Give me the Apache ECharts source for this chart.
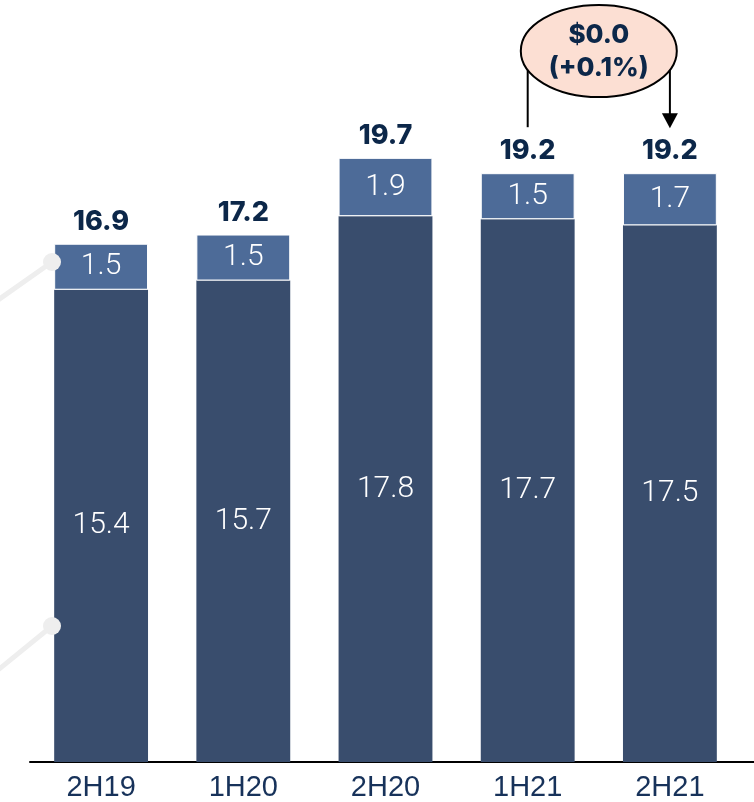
<!DOCTYPE html>
<html><head><meta charset="utf-8">
<script src="https://cdn.jsdelivr.net/npm/echarts@6/dist/echarts.min.js"></script>
<style>html,body{margin:0;padding:0;background:#fff}#c{width:754px;height:802px}</style>
</head><body><div id="c"></div>
<script>
const categories = ['2H19', '1H20', '2H20', '1H21', '2H21'];
const baseValues = [15.4, 15.7, 17.8, 17.7, 17.5];
const topValues = [1.5, 1.5, 1.9, 1.5, 1.7];
const totals = [16.9, 17.2, 19.7, 19.2, 19.2];
const changeText = ['$0.0', '(+0.1%)'];

const chart = echarts.init(document.getElementById('c'));
const navy = '#0C2749';
const boldFont = 'Inter';
chart.setOption({
  animation: false,
  grid: { left: 30, right: 13, top: 26, bottom: 39 },
  xAxis: {
    type: 'category', data: categories,
    axisLine: { lineStyle: { color: '#000', width: 2 } },
    axisTick: { show: false },
    axisLabel: { color: '#17325A', fontSize: 29, fontFamily: 'Liberation Sans Narrow, Arial Narrow, sans-serif', margin: 11 }
  },
  yAxis: { type: 'value', min: 0, max: 24, show: false, splitLine: { show: false } },
  series: [
    { type: 'bar', stack: 's', data: baseValues, barWidth: '66%',
      itemStyle: { color: '#394D6D' },
      label: { show: true, position: 'inside', color: '#fff', fontSize: 30, fontFamily: 'Roboto', fontWeight: 300 } },
    { type: 'bar', stack: 's', data: topValues,
      itemStyle: { color: '#4D6B98', borderColor: '#fff', borderWidth: 1 },
      label: { show: true, position: 'inside', color: '#fff', fontSize: 30, fontFamily: 'Roboto', fontWeight: 300 } },
    { type: 'line', data: totals, symbol: 'circle', symbolSize: 1, showSymbol: true,
      itemStyle: { color: 'rgba(0,0,0,0)' }, lineStyle: { opacity: 0 }, silent: true,
      label: { show: true, position: 'top', distance: 8, color: navy, fontSize: 27, fontWeight: 800, fontFamily: boldFont } }
  ]
});

// decorative fragments of neighbouring chart
const deco = [];
[[300, 262], [670, 626]].forEach(([y0, y1]) => {
  deco.push({ type: 'line', shape: { x1: -2, y1: y0, x2: 52, y2: y1 }, style: { stroke: '#EEEEEE', lineWidth: 5 }, z: 20 });
  deco.push({ type: 'circle', shape: { cx: 52, cy: y1, r: 9 }, style: { fill: '#EEEEEE' }, z: 20 });
});

const base0 = chart.convertToPixel({ seriesIndex: 0 }, [4, 0]);
const p1 = chart.convertToPixel({ seriesIndex: 0 }, [3, totals[3]]);
const p2 = chart.convertToPixel({ seriesIndex: 0 }, [4, totals[4]]);
const cx = (p1[0] + p2[0]) / 2;
const lineBottom = p1[1] - 46;
const cy = 51, ry = 46, rx = 78;
const g = deco.concat([
  { type: 'line', shape: { x1: 700, y1: base0[1], x2: 754, y2: base0[1] }, style: { stroke: '#000', lineWidth: 2 } },
  { type: 'line', shape: { x1: p1[0], y1: cy + 17, x2: p1[0], y2: lineBottom }, style: { stroke: '#000', lineWidth: 2 } },
  { type: 'line', shape: { x1: p2[0], y1: cy + 19, x2: p2[0], y2: lineBottom - 12 }, style: { stroke: '#000', lineWidth: 2 } },
  { type: 'polygon', shape: { points: [[p2[0] - 8, lineBottom - 14], [p2[0] + 8, lineBottom - 14], [p2[0], lineBottom + 1]] }, style: { fill: '#000' } },
  { type: 'ellipse', shape: { cx: cx, cy: cy, rx: rx, ry: ry }, style: { fill: '#FCDFD3', stroke: '#000', lineWidth: 2 }, z: 10 },
  { type: 'text', x: cx, y: cy - 16, z: 11, style: { text: changeText[0], align: 'center', verticalAlign: 'middle', fill: navy, fontSize: 26, fontWeight: 800, fontFamily: boldFont } },
  { type: 'text', x: cx, y: cy + 17, z: 11, style: { text: changeText[1], align: 'center', verticalAlign: 'middle', fill: navy, fontSize: 26, fontWeight: 800, fontFamily: boldFont } }
]);
chart.setOption({ graphic: g });
</script></body></html>
